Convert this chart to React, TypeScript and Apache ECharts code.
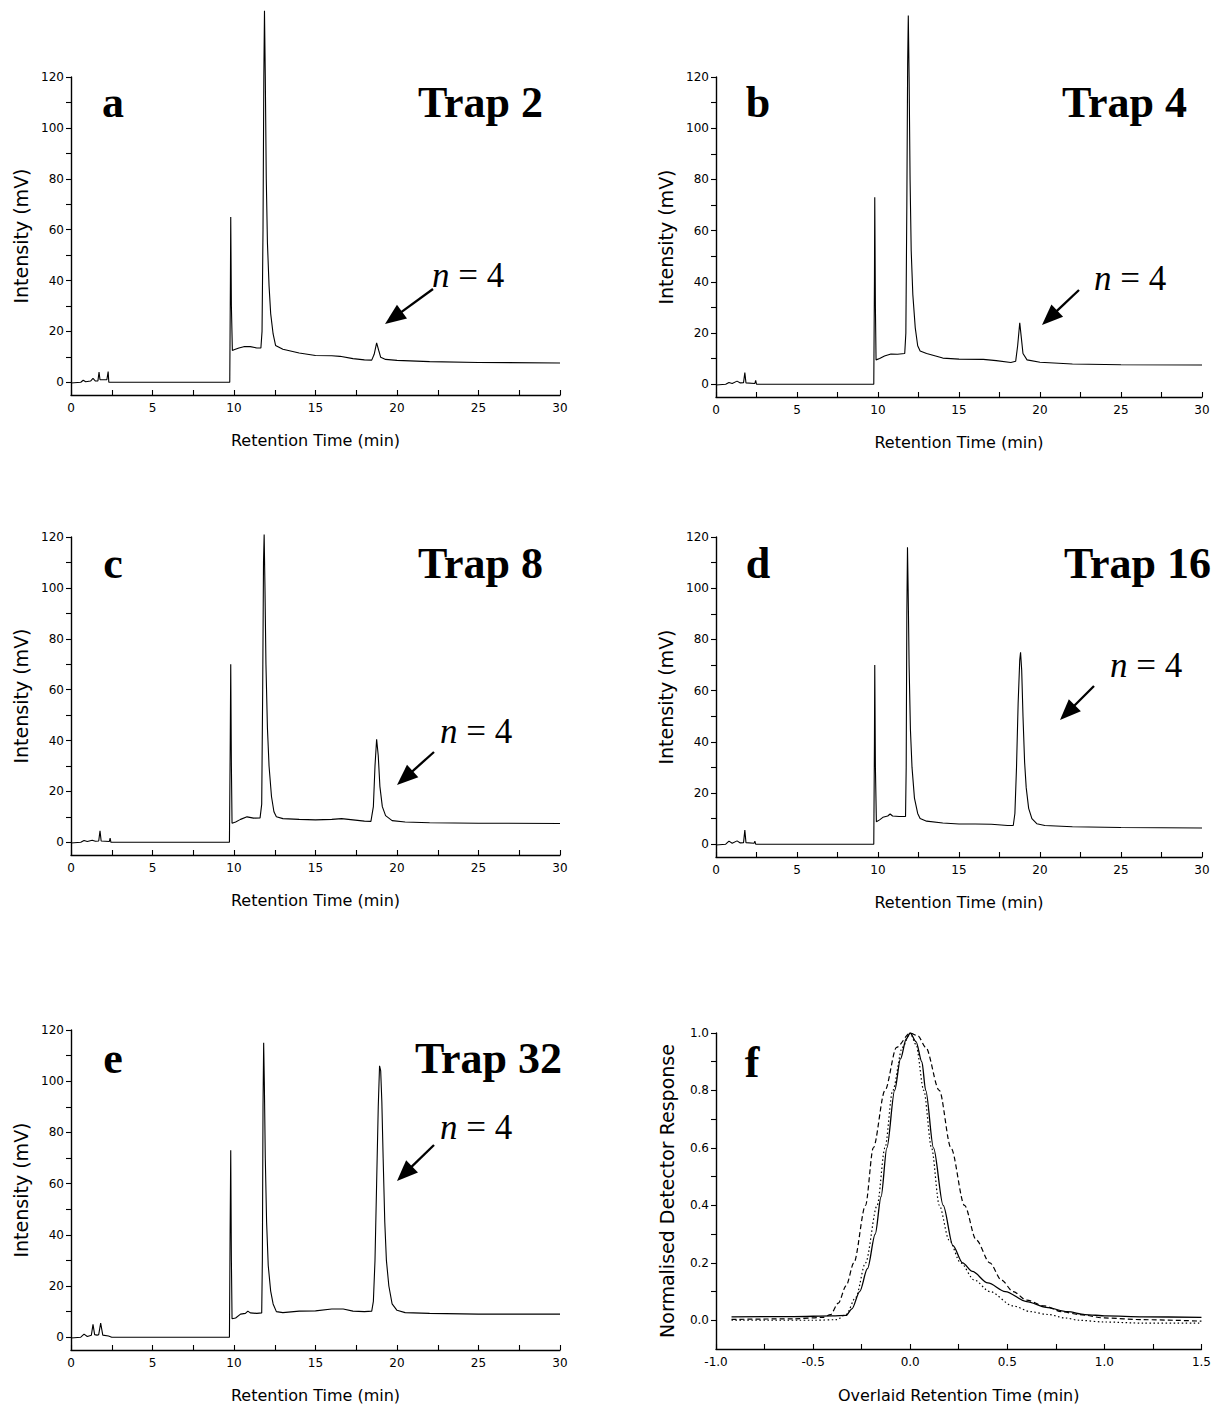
import React, { useEffect, useRef } from "react";
import * as echarts from "echarts";

// ---- data ----
const trap2: number[][] = [
  [0, -0.3], [0.6, 0], [0.75, 0.8], [0.9, 0.2], [1.2, 0.5], [1.35, 1.5], [1.5, 0.5], [1.65, 0.5], [1.72, 4], [1.78, 1],
  [2.2, 1], [2.28, 4.2], [2.32, 0], [5, 0], [9.74, 0], [9.78, 40], [9.8, 65], [9.84, 30], [9.9, 12.5], [10.0, 12.8],
  [10.3, 13.5], [10.6, 14], [11.0, 14], [11.4, 13.5], [11.65, 13.5], [11.72, 20], [11.78, 60], [11.83, 120], [11.87, 146],
  [11.92, 120], [11.98, 80], [12.05, 55], [12.15, 38], [12.25, 27], [12.4, 19], [12.55, 14.5], [13, 13], [14, 11.5],
  [15, 10.5], [16, 10.4], [16.5, 10.2], [17.3, 9.3], [18, 8.8], [18.45, 8.7], [18.6, 11], [18.75, 15.5], [18.88, 12.5],
  [19.0, 9.8], [19.3, 9], [20, 8.6], [22, 8.1], [25, 7.8], [30, 7.6],
];
const trap4: number[][] = [
  [0, -0.3], [0.6, 0], [0.8, 0.7], [1.0, 0.3], [1.3, 1.2], [1.5, 0.5], [1.7, 0.6], [1.78, 4.5], [1.85, 0.5], [2.4, 0.3],
  [2.45, 1.5], [2.5, 0], [5, 0], [9.74, 0], [9.78, 40], [9.8, 73], [9.84, 30], [9.88, 9.5], [10.1, 10], [10.4, 11],
  [10.8, 11.8], [11.2, 11.7], [11.65, 12], [11.72, 20], [11.78, 70], [11.83, 125], [11.87, 144], [11.92, 120], [11.98, 80],
  [12.05, 52], [12.15, 35], [12.3, 22], [12.45, 15], [12.6, 13], [13, 12], [14, 10.2], [15, 9.8], [16.5, 9.7], [17.3, 9.2],
  [18.2, 8.5], [18.5, 9], [18.62, 15], [18.75, 24], [18.85, 18], [18.95, 12], [19.2, 9.5], [20, 8.6], [22, 7.9], [25, 7.6],
  [30, 7.5],
];
const trap8: number[][] = [
  [0, -0.3], [0.6, 0], [0.8, 0.7], [1.0, 0.3], [1.3, 0.8], [1.5, 0.4], [1.7, 0.5], [1.78, 4.5], [1.85, 0.5], [2.35, 0.3],
  [2.4, 1.6], [2.45, 0], [5, 0], [9.72, 0], [9.77, 40], [9.8, 70], [9.84, 30], [9.88, 7.5], [10.1, 8], [10.4, 9], [10.8, 10],
  [11.2, 9.5], [11.6, 9.6], [11.7, 15], [11.76, 60], [11.81, 110], [11.85, 121], [11.9, 100], [11.96, 70], [12.05, 45],
  [12.15, 30], [12.3, 18], [12.45, 12], [12.6, 10], [13, 9.3], [14, 9], [15, 8.8], [16, 9], [16.6, 9.3], [17.3, 8.8],
  [18, 8.3], [18.4, 8.2], [18.55, 14], [18.65, 30], [18.75, 40.5], [18.85, 34], [18.95, 22], [19.1, 14], [19.3, 10.5],
  [19.7, 8.5], [20.5, 8], [22, 7.7], [25, 7.5], [30, 7.4],
];
const trap16: number[][] = [
  [0, -0.3], [0.6, 0], [0.8, 1.2], [1.0, 0.4], [1.3, 1.3], [1.5, 0.5], [1.7, 0.6], [1.78, 5.5], [1.85, 0.6], [2.35, 0.4],
  [2.4, 1.2], [2.45, 0], [5, 0], [9.74, 0], [9.78, 40], [9.8, 70], [9.84, 30], [9.9, 8.8], [10.1, 9.5], [10.3, 10.5],
  [10.6, 11], [10.75, 11.8], [10.9, 11], [11.3, 10.8], [11.7, 10.8], [11.74, 30], [11.78, 90], [11.82, 116], [11.86, 100],
  [11.92, 70], [12.0, 45], [12.1, 30], [12.25, 18], [12.45, 12], [12.6, 10], [13, 9], [14, 8.3], [15, 7.9], [16, 7.9],
  [17, 7.8], [18, 7.3], [18.35, 7.3], [18.45, 12], [18.55, 30], [18.65, 55], [18.75, 72], [18.8, 75], [18.87, 68],
  [18.95, 50], [19.05, 32], [19.15, 22], [19.3, 14], [19.5, 10], [19.8, 8], [20.3, 7.3], [22, 6.8], [25, 6.5], [30, 6.3],
];
const trap32: number[][] = [
  [0, -0.3], [0.6, 0], [0.8, 1.2], [1.0, 0.3], [1.25, 0.8], [1.35, 5], [1.45, 1], [1.6, 0.8], [1.7, 1], [1.82, 5.5],
  [1.95, 0.8], [2.3, 0.5], [2.5, 0], [5, 0], [9.72, 0], [9.76, 40], [9.8, 73], [9.84, 30], [9.88, 7.2], [10.1, 7.5],
  [10.4, 9], [10.7, 9.3], [10.85, 10.2], [11.0, 9.5], [11.4, 9.3], [11.7, 9.5], [11.74, 30], [11.78, 90], [11.82, 115],
  [11.86, 100], [11.92, 70], [12.0, 45], [12.1, 28], [12.25, 18], [12.4, 13], [12.6, 10], [13, 9.6], [14, 10.2], [15, 10.3],
  [16, 11], [16.7, 11], [17.3, 10.2], [18, 10], [18.45, 10.2], [18.55, 14], [18.65, 30], [18.75, 60], [18.85, 90],
  [18.93, 106], [19.0, 104], [19.07, 92], [19.15, 70], [19.25, 45], [19.35, 30], [19.5, 20], [19.7, 13], [20, 10.5],
  [20.5, 9.6], [22, 9.3], [25, 9], [30, 9],
];
const overlaidSolid: number[][] = [
  [-0.92, 0.012], [-0.6, 0.013], [-0.4, 0.015], [-0.33, 0.017], [-0.3, 0.04], [-0.26, 0.1], [-0.22, 0.18], [-0.18, 0.3],
  [-0.15, 0.43], [-0.12, 0.6], [-0.08, 0.8], [-0.05, 0.91], [-0.02, 0.98], [0, 1.0], [0.03, 0.97], [0.06, 0.9], [0.08, 0.8],
  [0.12, 0.6], [0.17, 0.4], [0.22, 0.26], [0.27, 0.2], [0.32, 0.17], [0.4, 0.13], [0.49, 0.1], [0.6, 0.065], [0.7, 0.045],
  [0.81, 0.03], [0.9, 0.02], [1.01, 0.015], [1.2, 0.012], [1.5, 0.01],
];
const overlaidDashed: number[][] = [
  [-0.92, 0.003], [-0.6, 0.005], [-0.45, 0.01], [-0.41, 0.02], [-0.37, 0.06], [-0.33, 0.12], [-0.29, 0.2], [-0.23, 0.4],
  [-0.19, 0.6], [-0.13, 0.8], [-0.07, 0.95], [0, 1.0], [0.04, 0.99], [0.08, 0.95], [0.15, 0.8], [0.21, 0.6], [0.28, 0.4],
  [0.34, 0.28], [0.41, 0.2], [0.47, 0.14], [0.53, 0.1], [0.6, 0.07], [0.69, 0.05], [0.78, 0.03], [0.87, 0.02], [1.0, 0.008],
  [1.2, 0.002], [1.5, -0.003],
];
const overlaidDotted: number[][] = [
  [-0.92, 0.0], [-0.5, 0.0], [-0.38, 0.002], [-0.33, 0.02], [-0.28, 0.08], [-0.23, 0.2], [-0.17, 0.4], [-0.13, 0.6],
  [-0.09, 0.8], [-0.04, 0.95], [0, 1.0], [0.03, 0.96], [0.07, 0.8], [0.11, 0.6], [0.15, 0.4], [0.2, 0.28], [0.26, 0.2],
  [0.33, 0.14], [0.41, 0.1], [0.53, 0.05], [0.62, 0.03], [0.71, 0.02], [0.8, 0.008], [0.87, 0.0], [1.0, -0.006],
  [1.2, -0.01], [1.5, -0.01],
];

const intensityTicks = [0, 10, 20, 30, 40, 50, 60, 70, 80, 90, 100, 110, 120];
const intensityLabels = [0, 20, 40, 60, 80, 100, 120];
const responseTicks = [0, 0.1, 0.2, 0.3, 0.4, 0.5, 0.6, 0.7, 0.8, 0.9, 1.0];
const responseLabels = [0, 0.2, 0.4, 0.6, 0.8, 1.0];

const panelLetters = ["a", "b", "c", "d", "e", "f"];
const trapLabels = ["Trap 2", "Trap 4", "Trap 8", "Trap 16", "Trap 32"];
const traces = [trap2, trap4, trap8, trap16, trap32];

// ---- layout ----
const grids = [
  { left: 71, top: 77, width: 489, height: 318 },
  { left: 716, top: 77, width: 486, height: 320 },
  { left: 71, top: 537, width: 489, height: 318 },
  { left: 716, top: 537, width: 486, height: 320 },
  { left: 71, top: 1030, width: 489, height: 322 },
  { left: 716, top: 1033, width: 486, height: 321 },
];
const letterPos = [[113, 102], [758, 102], [113, 563], [758, 563], [113, 1058], [752, 1062]];
const trapPos = [[543, 102], [1187, 102], [543, 563], [1211, 563], [562, 1058]];
const nPos = [[432, 275], [1094, 278], [440, 731], [1110, 665], [440, 1127]];
const arrows = [
  [433, 289, 385, 324],
  [1079, 290, 1042, 325],
  [434, 752, 397, 785],
  [1094, 686, 1060, 720],
  [434, 1145, 397, 1181],
];

const SANS = "DejaVu Sans";
const SERIF = "Liberation Serif";
const axisLineStyle = { color: "#000", width: 1.4 };
const tickStyle = { color: "#000", width: 1.1 };
const labelStyle = { fontFamily: SANS, fontSize: 12, color: "#000" };
const xNameStyle = { fontFamily: SANS, fontSize: 16, color: "#000" };
const yNameStyle = { fontFamily: SANS, fontSize: 19, color: "#000" };

function arrowGraphic(x1: number, y1: number, x2: number, y2: number) {
  const dx = x2 - x1, dy = y2 - y1;
  const L = Math.hypot(dx, dy);
  const ux = dx / L, uy = dy / L;
  const hl = 21, hw = 8.5;
  const bx = x2 - ux * hl, by = y2 - uy * hl;
  return [
    { type: "line", shape: { x1, y1, x2: bx + ux * 3, y2: by + uy * 3 }, style: { stroke: "#000", lineWidth: 2.3 } },
    {
      type: "polygon",
      shape: { points: [[x2, y2], [bx - uy * hw, by + ux * hw], [bx + uy * hw, by - ux * hw]] },
      style: { fill: "#000" },
    },
  ];
}

export default function App() {
  const ref = useRef<HTMLDivElement>(null);
  useEffect(() => {
    if (!ref.current) return;
    const chart = echarts.init(ref.current, null, { renderer: "svg" });

    const xAxes: any[] = [];
    const yAxes: any[] = [];
    const series: any[] = [];

    for (let i = 0; i < 5; i++) {
      xAxes.push({
        type: "value", gridIndex: i, min: 0, max: 30, interval: 2.5,
        name: "Retention Time (min)", nameLocation: "middle", nameGap: 37, nameTextStyle: xNameStyle,
        axisLine: { onZero: false, lineStyle: axisLineStyle },
        axisTick: { inside: true, length: 5, lineStyle: tickStyle },
        axisLabel: { ...labelStyle, margin: 7, formatter: (v: number) => (Math.abs(v % 5) < 1e-9 ? String(v) : "") },
        splitLine: { show: false },
      });
      yAxes.push({
        type: "value", gridIndex: i, min: -5, max: 120,
        name: "Intensity (mV)", nameLocation: "middle", nameGap: 41, nameTextStyle: yNameStyle,
        axisLine: { onZero: false, lineStyle: axisLineStyle },
        axisTick: { length: 5, lineStyle: tickStyle, customValues: intensityTicks },
        axisLabel: { ...labelStyle, margin: 7, customValues: intensityLabels },
        splitLine: { show: false },
      });
      series.push({
        type: "line", xAxisIndex: i, yAxisIndex: i, data: traces[i], symbol: "none", showSymbol: false,
        clip: false, silent: true, lineStyle: { color: "#000", width: 1.1 },
      });
    }

    xAxes.push({
      type: "value", gridIndex: 5, min: -1, max: 1.5, interval: 0.25,
      name: "Overlaid Retention Time (min)", nameLocation: "middle", nameGap: 38, nameTextStyle: xNameStyle,
      axisLine: { onZero: false, lineStyle: axisLineStyle },
      axisTick: { inside: true, length: 5, lineStyle: tickStyle },
      axisLabel: {
        ...labelStyle, margin: 7,
        formatter: (v: number) => {
          const r = Math.round(v * 100) / 100;
          return Math.abs(r * 2 - Math.round(r * 2)) < 1e-6 ? r.toFixed(1) : "";
        },
      },
      splitLine: { show: false },
    });
    yAxes.push({
      type: "value", gridIndex: 5, min: -0.1, max: 1.0,
      name: "Normalised Detector Response", nameLocation: "middle", nameGap: 40, nameTextStyle: yNameStyle,
      axisLine: { onZero: false, lineStyle: axisLineStyle },
      axisTick: { length: 5, lineStyle: tickStyle, customValues: responseTicks },
      axisLabel: { ...labelStyle, margin: 7, customValues: responseLabels, formatter: (v: number) => v.toFixed(1) },
      splitLine: { show: false },
    });
    const fStyles = [
      { data: overlaidSolid, lineStyle: { color: "#000", width: 1.3, type: "solid" } },
      { data: overlaidDashed, lineStyle: { color: "#000", width: 1.2, type: [5, 3] } },
      { data: overlaidDotted, lineStyle: { color: "#000", width: 1.2, type: [1.5, 2.5] } },
    ];
    fStyles.forEach((s) => {
      series.push({
        type: "line", xAxisIndex: 5, yAxisIndex: 5, data: s.data, symbol: "none", showSymbol: false,
        smooth: 0.3, smoothMonotone: "x", silent: true, lineStyle: s.lineStyle,
      });
    });

    const graphic: any[] = [];
    panelLetters.forEach((t, i) => {
      graphic.push({
        type: "text", x: letterPos[i][0], y: letterPos[i][1],
        style: { text: t, font: `bold 44px "${SERIF}"`, fill: "#000", textAlign: "center", textVerticalAlign: "middle" },
      });
    });
    trapLabels.forEach((t, i) => {
      graphic.push({
        type: "text", x: trapPos[i][0], y: trapPos[i][1],
        style: { text: t, font: `bold 44px "${SERIF}"`, fill: "#000", textAlign: "right", textVerticalAlign: "middle" },
      });
      graphic.push({
        type: "text", x: nPos[i][0], y: nPos[i][1],
        style: {
          text: "{i|n} = 4", fontFamily: SERIF, fontSize: 35, fill: "#000",
          textAlign: "left", textVerticalAlign: "middle",
          rich: { i: { fontFamily: SERIF, fontSize: 35, fontStyle: "italic", fill: "#000" } },
        },
      });
      const a = arrows[i];
      graphic.push(...arrowGraphic(a[0], a[1], a[2], a[3]));
    });

    chart.setOption({
      animation: false,
      backgroundColor: "#fff",
      grid: grids.map((g) => ({ ...g, containLabel: false })),
      xAxis: xAxes,
      yAxis: yAxes,
      series,
      graphic,
    });
    return () => chart.dispose();
  }, []);
  return (
    <div
      ref={ref}
      style={{ position: "absolute", left: 0, top: 0, width: 1214, height: 1404, background: "#fff" }}
    />
  );
}
